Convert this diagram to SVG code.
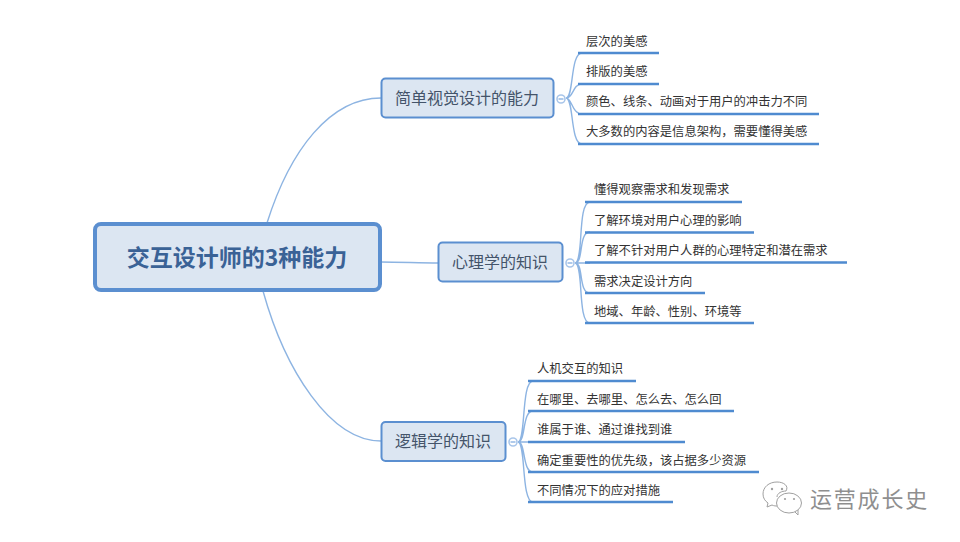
<svg xmlns="http://www.w3.org/2000/svg" width="960" height="542" viewBox="0 0 960 542">
<style>
text{font-family:"Noto Sans CJK SC","Liberation Sans",sans-serif}
.n{fill:#dce6f2;stroke:#5b8fd0;stroke-width:2}
.nt{font-size:16px;fill:#44546a;text-anchor:middle}
.l{font-size:12.3px;fill:#333}
.u{stroke:#4f8bd0;stroke-width:2.6;fill:none}
.c{stroke:#8db4e2;stroke-width:1.4;fill:none}
.k{stroke:#a9c6ea;stroke-width:1.6;fill:#fff}
.w{fill:none;stroke:#a0a0a0;stroke-width:1}
.e{fill:#a0a0a0}
</style>
<rect width="960" height="542" fill="#fff"/>
<g id="connectors">
<path class="c" d="M267 223C290 150 330 98 381 98"/>
<path class="c" d="M381 262C400 262 420 263 438 263"/>
<path class="c" d="M263 291C285 370 330 441 381 441"/>
<path class="c" d="M566 98C574 98 570 53 582 53M566 98C574 98 572 84 582 84M566 98C572 98 572 114 582 114M566 98C574 98 570 144 582 144"/>
<path class="c" d="M575 263C584 263 577 202 590 202M575 263C584 263 578 232 590 232M575 263H590M575 263C584 263 578 293 590 293M575 263C584 263 577 323 590 323"/>
<path class="c" d="M518 442C526 442 521 381 533 381M518 442C526 442 522 411 533 411M518 442H533M518 442C526 442 522 472 533 472M518 442C526 442 521 502 533 502"/>
</g>
<g id="root"><rect x="95" y="224" width="285" height="66" rx="6" fill="#dce6f2" stroke="#5b8fd0" stroke-width="4"/><text x="237" y="266" font-size="23" font-weight="700" fill="#3a6296" text-anchor="middle">交互设计师的3种能力</text></g>
<g id="node1"><rect class="n" x="381.500" y="78.500" width="172" height="39" rx="4"/><text class="nt" x="467" y="104">简单视觉设计的能力</text><circle class="k" cx="561" cy="99" r="4"/><path class="c" d="M558.500 99H563.500"/></g>
<g id="node2"><rect class="n" x="438.500" y="242.500" width="124" height="39" rx="4"/><text class="nt" x="500" y="268">心理学的知识</text><circle class="k" cx="570" cy="263" r="4"/><path class="c" d="M567.500 263H572.500"/></g>
<g id="node3"><rect class="n" x="381.500" y="422" width="124" height="39" rx="4"/><text class="nt" x="443" y="447">逻辑学的知识</text><circle class="k" cx="513" cy="442" r="4"/><path class="c" d="M510.500 442H515.500"/></g>
<g id="t1">
<path class="u" d="M578 53H659M578 84H659M578 114H819M578 144H819"/>
<text class="l" x="586" y="46">层次的美感</text><text class="l" x="586" y="76">排版的美感</text><text class="l" x="586" y="106">颜色、线条、动画对于用户的冲击力不同</text><text class="l" x="586" y="136">大多数的内容是信息架构，需要懂得美感</text>
</g>
<g id="t2">
<path class="u" d="M585 202H742M585 232.500H754M585 262.500H847M585 293H705M585 323H754"/>
<text class="l" x="594" y="194">懂得观察需求和发现需求</text><text class="l" x="594" y="225">了解环境对用户心理的影响</text><text class="l" x="594" y="255">了解不针对用户人群的心理特定和潜在需求</text><text class="l" x="594" y="286">需求决定设计方向</text><text class="l" x="594" y="316">地域、年龄、性别、环境等</text>
</g>
<g id="t3">
<path class="u" d="M528 381H636M528 411H734M528 442H685M528 472H759M528 502H673"/>
<text class="l" x="537" y="373">人机交互的知识</text><text class="l" x="537" y="404">在哪里、去哪里、怎么去、怎么回</text><text class="l" x="537" y="434">谁属于谁、通过谁找到谁</text><text class="l" x="537" y="465">确定重要性的优先级，该占据多少资源</text><text class="l" x="537" y="495">不同情况下的应对措施</text>
</g>
<g id="watermark">
<path class="w" d="M777 497C777 493 782 491 786 491C789 486 784 482 777 482C769 482 763 487 763 494C763 498 765 501 768 503L767 507L772 505C774 506 776 506 777 506"/>
<ellipse class="w" cx="789" cy="503" rx="12.500" ry="10"/>
<path class="w" d="M795 512L798 515L798 510"/>
<circle class="e" cx="772" cy="489" r="1.200"/><circle class="e" cx="782" cy="489" r="1.200"/><circle class="e" cx="785" cy="499" r="1.100"/><circle class="e" cx="794" cy="499" r="1.100"/>
<text x="810" y="507" font-size="22" fill="#8f8f8f" letter-spacing="1.800">运营成长史</text>
</g>
</svg>
